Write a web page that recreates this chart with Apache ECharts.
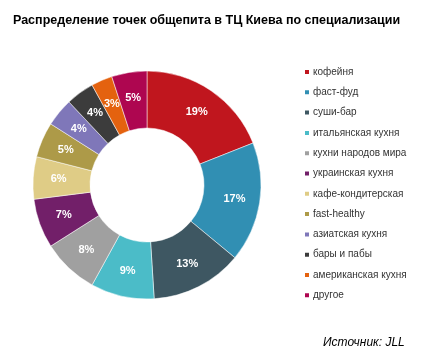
<!DOCTYPE html>
<html><head><meta charset="utf-8">
<script src="https://cdn.jsdelivr.net/npm/echarts@6/dist/echarts.min.js"></script>
<style>html,body{margin:0;padding:0;background:#fff}#c{width:444px;height:361px}</style>
</head><body><div id="c"></div>
<script>
const categories = ['кофейня','фаст-фуд','суши-бар','итальянская кухня','кухни народов мира','украинская кухня','кафе-кондитерская','fast-healthy','азиатская кухня','бары и пабы','американская кухня','другое'];
const values = [19,17,13,9,8,7,6,5,4,4,3,5];
const colors = ['#C0161E','#318FB3','#3E5762','#4BBCC8','#A0A0A0','#721F69','#DFCC86','#AD9A48','#7F77B9','#3C3C3C','#E4620F','#AE0650'];

const chart = echarts.init(document.getElementById('c'));
chart.setOption({
  animation:false,
  title:[{text:'Распределение точек общепита в ТЦ Киева по специализации',left:8,top:9,
    textStyle:{fontFamily:'Liberation Sans',fontSize:12.5,fontWeight:'bold',color:'#000'}},
    {text:'Источник: JLL',left:318,top:332,textStyle:{fontFamily:'Liberation Sans',fontSize:12,fontStyle:'italic',fontWeight:'normal',color:'#000'}}],
  legend:{orient:'vertical',left:298,top:62,itemWidth:6,itemHeight:6,itemGap:10.3,icon:'rect',
    textStyle:{fontFamily:'Liberation Sans',fontSize:10,color:'#333',padding:[0,0,0,-2]},
    data:categories},
  series:[{type:'pie',center:[147,185],radius:[57,114],startAngle:90,clockwise:true,
    itemStyle:{borderColor:'#fff',borderWidth:0.5},
    label:{position:'inside',formatter:'{c}%',color:'#fff',fontFamily:'Liberation Sans',fontSize:11,fontWeight:'bold'},
    labelLine:{show:false},
    data:categories.map((n,i)=>({name:n,value:values[i],itemStyle:{color:colors[i]}}))}]
});
</script></body></html>
